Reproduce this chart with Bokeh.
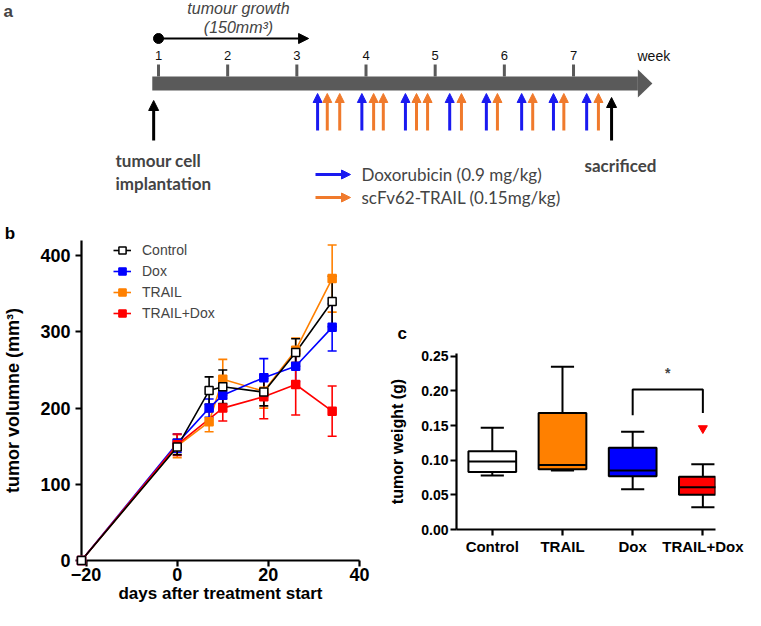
import math
import numpy as np
from bokeh.core.properties import value
from bokeh.embed import file_html
from bokeh.layouts import column, row
from bokeh.models import (Arrow, ColumnDataSource, FixedTicker, Label, Legend, LegendItem,
                          NormalHead, NumeralTickFormatter, Range1d, TeeHead, Whisker)
from bokeh.plotting import figure
from bokeh.resources import INLINE

# ---------------- data: panel a (treatment schedule, in weeks) ----------------
week_numbers = [1, 2, 3, 4, 5, 6, 7]
dox_dose_weeks = [3.30, 3.94, 4.57, 5.21, 5.74, 6.25, 6.71, 7.19]
trail_dose_weeks = [3.44, 3.62, 4.11, 4.25, 4.73, 4.89, 5.38, 5.90, 6.41, 6.86, 7.36]
implant_week = 0.93
sacrifice_week = 7.55
growth_weeks = [1.0, 3.17]
timeline_weeks = [0.91, 7.93, 8.14]  # bar start, head base, tip

# ---------------- data: panel b (tumor volume) ----------------
days = [-21, 0, 7, 10, 19, 26, 34]
control_mean = [0, 149, 223, 228, 221, 273, 340]
control_sem = [0, 10, 18, 22, 18, 18, 33]
dox_mean = [0, 154, 200, 217, 240, 255, 306]
dox_sem = [0, 12, 12, 12, 25, 20, 31]
trail_mean = [0, 150, 182, 238, 222, 276, 370]
trail_sem = [0, 15, 13, 26, 22, 16, 44]
combo_days = [-21, 0, 10, 19, 26, 34]
combo_mean = [0, 152, 200, 215, 231, 196]
combo_sem = [0, 14, 17, 29, 40, 33]
b_x_ticks = [-20, 0, 20, 40]
b_y_ticks = [0, 100, 200, 300, 400]

# ---------------- data: panel c (tumor weight box plot) ----------------
groups = ["Control", "TRAIL", "Dox", "TRAIL+Dox"]
w_low = [0.078, 0.085, 0.058, 0.032]
q1 = [0.083, 0.087, 0.077, 0.050]
med = [0.098, 0.093, 0.085, 0.061]
q3 = [0.113, 0.168, 0.118, 0.076]
w_high = [0.147, 0.235, 0.141, 0.094]
outlier_group = [4]
outlier_val = [0.146]
c_y_ticks = [0, 0.05, 0.10, 0.15, 0.20, 0.25]
sig_pair = [3, 4]
sig_levels = [0.165, 0.202, 0.168]

# ---------------- styles ----------------
BLUE = "#0000ff"
ORANGE = "#ff8000"
RED = "#ff0000"
A_BLUE = "#1a1af0"
A_ORANGE = "#f07a2c"
GRAY = "#5a5a5a"
ARIAL = "Liberation Sans"
CALIBRI = "Lato"

W_TOTAL = 745
H_A = 210
H_BC = 400

# =============== panel a ===============
PPW = 69.17


def ax(px):
    return 1 + (px - 158) / PPW


pa = figure(width=W_TOTAL, height=H_A, x_range=Range1d(ax(0), ax(W_TOTAL)),
            y_range=Range1d(H_A, 0), x_axis_type=None, y_axis_type=None,
            toolbar_location=None, output_backend="svg", min_border=0)
pa.grid.visible = False
pa.outline_line_color = None
pa.frame_align = False

pa.quad(left=[timeline_weeks[0]], right=[timeline_weeks[1]], top=[76], bottom=[90],
        fill_color=GRAY, line_color=None)
pa.patch(x=[timeline_weeks[1], timeline_weeks[2], timeline_weeks[1]], y=[69, 83, 97],
         fill_color=GRAY, line_color=None)
pa.segment(x0=week_numbers, x1=week_numbers, y0=[64] * 7, y1=[76] * 7,
           line_color=GRAY, line_width=3)
pa.text(x=week_numbers, y=[55] * 7, text=[str(w) for w in week_numbers],
        text_font=value(ARIAL), text_font_size="13px", text_align="center",
        text_baseline="middle", text_color="#111111")
pa.add_layout(Label(x=ax(637), y=55, text="week", text_font=ARIAL, text_font_size="14px",
                    text_baseline="middle", text_color="#111111"))

# growth arrow
pa.scatter(x=[growth_weeks[0]], y=[38], size=10, color="black")
pa.add_layout(Arrow(x_start=growth_weeks[0], y_start=38, x_end=growth_weeks[1], y_end=38,
                    line_width=2, line_color="black",
                    end=NormalHead(size=10, fill_color="black", line_color="black")))
pa.add_layout(Label(x=ax(238), y=8, text="tumour growth", text_font=ARIAL,
                    text_font_style="italic", text_font_size="16px", text_align="center",
                    text_baseline="middle"))
pa.add_layout(Label(x=ax(238), y=27, text="(150mm³)", text_font=ARIAL,
                    text_font_style="italic", text_font_size="16px", text_align="center",
                    text_baseline="middle"))

# dose arrows
for weeks, col in ((dox_dose_weeks, A_BLUE), (trail_dose_weeks, A_ORANGE)):
    n = len(weeks)
    src = ColumnDataSource(dict(x0=weeks, x1=weeks, y0=[130] * n, y1=[93] * n))
    pa.add_layout(Arrow(source=src, x_start="x0", y_start="y0", x_end="x1", y_end="y1",
                        line_width=3, line_color=col,
                        end=NormalHead(size=9, fill_color=col, line_color=col, line_width=1)))

for wk, ytip in ((implant_week, 100), (sacrifice_week, 97)):
    pa.add_layout(Arrow(x_start=wk, y_start=140, x_end=wk, y_end=ytip, line_width=3,
                        line_color="black",
                        end=NormalHead(size=10, fill_color="black", line_color="black")))

pa.add_layout(Label(x=ax(115), y=160, text="tumour cell", text_font=CALIBRI,
                    text_font_style="bold", text_font_size="17px", text_baseline="middle"))
pa.add_layout(Label(x=ax(115), y=183, text="implantation", text_font=CALIBRI,
                    text_font_style="bold", text_font_size="17px", text_baseline="middle"))
pa.add_layout(Label(x=ax(584), y=165, text="sacrificed", text_font=CALIBRI,
                    text_font_style="bold", text_font_size="17px", text_baseline="middle"))

for ly, col, txt in ((174, A_BLUE, "Doxorubicin (0.9 mg/kg)"),
                     (197, A_ORANGE, "scFv62-TRAIL (0.15mg/kg)")):
    pa.add_layout(Arrow(x_start=ax(315), y_start=ly, x_end=ax(350), y_end=ly, line_width=3,
                        line_color=col,
                        end=NormalHead(size=9, fill_color=col, line_color=col, line_width=1)))
    pa.add_layout(Label(x=ax(361), y=ly, text=txt, text_font=CALIBRI, text_font_size="17px",
                        text_baseline="middle"))

pa.add_layout(Label(x=ax(3), y=11, text="a", text_font=ARIAL, text_font_style="bold",
                    text_font_size="17px", text_baseline="middle"))

# =============== panel b ===============
WB = 372
BL, BR, BB, BT = 80, 359, 560, 240
BX0, BX1, BY1 = -21, 40, 420


def bx(px):
    return BX0 + (px - BL) * (BX1 - BX0) / (BR - BL)


def by(py):
    return (BB - py) * BY1 / (BB - BT)


pb = figure(width=WB, height=H_BC, x_range=Range1d(BX0, BX1), y_range=Range1d(0, BY1),
            toolbar_location=None, output_backend="svg",
            min_border_left=BL, min_border_right=WB - BR,
            min_border_top=BT - H_A, min_border_bottom=H_A + H_BC - BB)
pb.frame_align = False
pb.grid.visible = False
pb.outline_line_color = None
pb.xaxis.ticker = FixedTicker(ticks=b_x_ticks)
pb.yaxis.ticker = FixedTicker(ticks=b_y_ticks)
for a in (pb.xaxis[0], pb.yaxis[0]):
    a.axis_line_width = 2.2
    a.major_tick_line_width = 2.2
    a.major_tick_in = 0
    a.major_tick_out = 6
    a.minor_tick_line_color = None
    a.major_label_text_font = ARIAL
    a.major_label_text_font_style = "bold"
    a.major_label_text_font_size = "18px"
    a.major_label_text_color = "black"
    a.axis_label_text_font = ARIAL
    a.axis_label_text_font_style = "bold"
    a.axis_label_text_color = "black"
pb.xaxis.major_label_standoff = 1
pb.yaxis.major_label_standoff = 5
pb.xaxis.axis_label = "days after treatment start"
pb.xaxis.axis_label_text_font_size = "17px"
pb.xaxis.axis_label_standoff = 0
pb.yaxis.axis_label = "tumor volumne (mm³)"
pb.yaxis.axis_label_text_font_size = "18px"
pb.yaxis.axis_label_standoff = 14

series = [
    ("TRAIL", days, trail_mean, trail_sem, ORANGE, ORANGE),
    ("Dox", days, dox_mean, dox_sem, BLUE, BLUE),
    ("TRAIL+Dox", combo_days, combo_mean, combo_sem, RED, RED),
    ("Control", days, control_mean, control_sem, "black", "white"),
]
renderers = {}
for name, xs, m, e, col, fill in series:
    m = np.array(m, dtype=float)
    e = np.array(e, dtype=float)
    xs = np.array(xs, dtype=float)
    src = ColumnDataSource(dict(x=xs, y=m))
    keep = e > 0
    wsrc = ColumnDataSource(dict(x=xs[keep], upper=(m + e)[keep], lower=(m - e)[keep]))
    pb.add_layout(Whisker(source=wsrc, base="x", upper="upper", lower="lower",
                          line_color=col, line_width=1.6,
                          upper_head=TeeHead(size=9, line_color=col, line_width=1.6),
                          lower_head=TeeHead(size=9, line_color=col, line_width=1.6)))
    ln = pb.line("x", "y", source=src, line_color=col, line_width=1.6)
    sc = pb.scatter("x", "y", source=src, marker="square", size=8, fill_color=fill,
                    line_color=col, line_width=1.5, level="overlay")
    renderers[name] = [ln, sc]

legend = Legend(items=[LegendItem(label=n, renderers=renderers[n])
                       for n in ["Control", "Dox", "TRAIL", "TRAIL+Dox"]],
                location=(112 - BL, BB - (BT + 83)))
legend.border_line_color = None
legend.background_fill_alpha = 0
legend.label_text_font = ARIAL
legend.label_text_font_size = "14px"
legend.glyph_width = 18
legend.glyph_height = 20
legend.label_height = 20
legend.spacing = 1
legend.padding = 0
legend.margin = 0
legend.label_standoff = 11
pb.add_layout(legend)

pb.text(x=[bx(3)], y=[by(233)], text=["b"], text_font=value(ARIAL),
        text_font_style="bold", text_font_size="17px", text_baseline="middle",
        level="overlay")

# =============== panel c ===============
WC = W_TOTAL - WB
CS = 15
CL, CR, CB, CT = 471 - CS, 730 - CS, 529, 353
CX0, CX1, CY1 = 0.49, 4.18, 0.254


def cx(px):
    return CX0 + (px - CL) * (CX1 - CX0) / (CR - CL)


def cy(py):
    return (CB - py) * CY1 / (CB - CT)


pc = figure(width=WC, height=H_BC, x_range=Range1d(CX0, CX1), y_range=Range1d(0, CY1),
            toolbar_location=None, output_backend="svg",
            min_border_left=CL - WB, min_border_right=W_TOTAL - CR,
            min_border_top=CT - H_A, min_border_bottom=H_A + H_BC - CB)
pc.frame_align = False
pc.grid.visible = False
pc.outline_line_color = None
xpos = np.arange(1, len(groups) + 1)
pc.xaxis.ticker = FixedTicker(ticks=list(xpos))
pc.xaxis.major_label_overrides = {int(i): g for i, g in zip(xpos, groups)}
pc.yaxis.ticker = FixedTicker(ticks=c_y_ticks)
pc.yaxis.formatter = NumeralTickFormatter(format="0.00")
for a in (pc.xaxis[0], pc.yaxis[0]):
    a.axis_line_width = 2.2
    a.major_tick_line_width = 2.2
    a.major_tick_in = 0
    a.major_tick_out = 6
    a.minor_tick_line_color = None
    a.major_label_text_font = ARIAL
    a.major_label_text_font_style = "bold"
    a.major_label_text_color = "black"
pc.xaxis.major_label_text_font_size = "15px"
pc.yaxis.major_label_text_font_size = "14px"
pc.xaxis.major_label_standoff = 2
pc.yaxis.major_label_standoff = 2
pc.yaxis.axis_label = "tumor weight (g)"
pc.yaxis.axis_label_text_font = ARIAL
pc.yaxis.axis_label_text_font_style = "bold"
pc.yaxis.axis_label_text_font_size = "16px"
pc.yaxis.axis_label_text_color = "black"
pc.yaxis.axis_label_standoff = 12

box_colors = ["white", ORANGE, BLUE, RED]
BW = 0.68
CW = 0.33
pc.segment(x0=xpos, x1=xpos, y0=q3, y1=w_high, line_color="black", line_width=2)
pc.segment(x0=xpos, x1=xpos, y0=w_low, y1=q1, line_color="black", line_width=2)
pc.segment(x0=xpos - CW / 2, x1=xpos + CW / 2, y0=w_high, y1=w_high, line_color="black",
           line_width=2)
pc.segment(x0=xpos - CW / 2, x1=xpos + CW / 2, y0=w_low, y1=w_low, line_color="black",
           line_width=2)
pc.vbar(x=xpos, width=BW, bottom=q1, top=q3, fill_color=box_colors, line_color="black",
        line_width=2)
pc.segment(x0=xpos - BW / 2, x1=xpos + BW / 2, y0=med, y1=med, line_color="black",
           line_width=2)
pc.scatter(x=outlier_group, y=outlier_val, marker="inverted_triangle", size=9,
           fill_color=RED, line_color=RED)
pc.line(x=[sig_pair[0], sig_pair[0], sig_pair[1], sig_pair[1]],
        y=[sig_levels[0], sig_levels[1], sig_levels[1], sig_levels[2]],
        line_color="black", line_width=2)
pc.add_layout(Label(x=sum(sig_pair) / 2, y=cy(372), text="*", text_font=ARIAL,
                    text_font_style="bold", text_font_size="14px", text_align="center",
                    text_baseline="middle"))
pc.text(x=[cx(412 - CS)], y=[cy(333)], text=["c"], text_font=value(ARIAL),
        text_font_style="bold", text_font_size="17px", text_baseline="middle",
        level="overlay")

layout = column(pa, row(pb, pc))
open("out.html", "w").write(file_html(layout, INLINE))
